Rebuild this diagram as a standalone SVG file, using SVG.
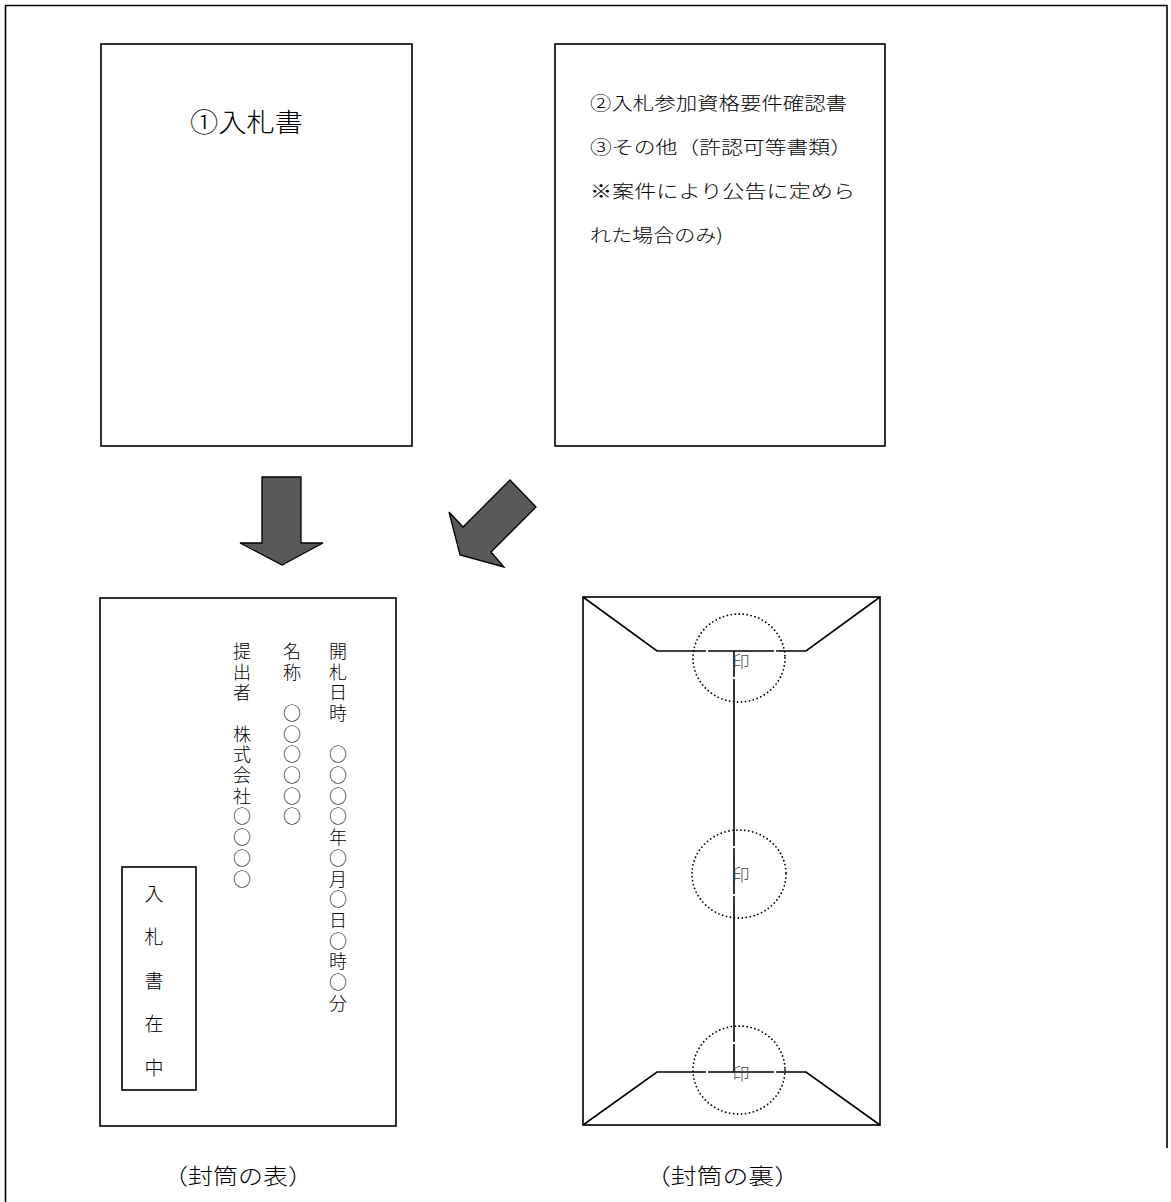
<svg xmlns="http://www.w3.org/2000/svg" width="1171" height="1202" viewBox="0 0 1171 1202">
<style>
  .box { fill: #fff; stroke: #000; stroke-width: 1.6; }
  .line { fill: none; stroke: #000; stroke-width: 1.6; }
  .arrow { fill: #595959; stroke: #000; stroke-width: 1.3; stroke-linejoin: miter; }
  .seal { fill: none; stroke: #000; stroke-width: 1.8; stroke-dasharray: 0 4; stroke-linecap: round; }
  .gap { fill: none; stroke: #fff; stroke-width: 2.2; }
  .t { font-family: "Noto Sans CJK JP", "Noto Sans", sans-serif; font-weight: 300; fill: #000; dominant-baseline: central; }
  .vt { font-family: "Noto Sans CJK JP", "Noto Sans", sans-serif; font-weight: 300; fill: #000; writing-mode: vertical-rl; font-size: 18px; letter-spacing: 2.7px; }
  .inkan { font-size: 17px; fill: #444; text-anchor: middle; }
</style>

<path class="line" d="M5.5,1202 V5.5 H1167 V1148"/>

<g id="doc1">
  <rect class="box" x="101" y="44" width="311" height="402"/>
  <text class="t" x="190" y="120" font-size="26" textLength="113" lengthAdjust="spacingAndGlyphs">①入札書</text>
</g>

<g id="doc2">
  <rect class="box" x="555" y="44" width="330" height="402"/>
  <text class="t" x="590" y="102" font-size="18" textLength="257" lengthAdjust="spacingAndGlyphs">②入札参加資格要件確認書</text>
  <text class="t" x="590" y="146" font-size="18" textLength="262" lengthAdjust="spacingAndGlyphs">③その他（許認可等書類）</text>
  <text class="t" x="590" y="190" font-size="18" textLength="265" lengthAdjust="spacingAndGlyphs">※案件により公告に定めら</text>
  <text class="t" x="590" y="234" font-size="18" textLength="133" lengthAdjust="spacingAndGlyphs">れた場合のみ)</text>
</g>

<g id="connectors">
  <polygon class="arrow" points="262,477 301,477 301,543 323,543 282,565 240,543 262,543"/>
  <polygon class="arrow" points="510,480 536,507 491,552 504,567 460,555 449,512 463,527"/>
</g>

<g id="envelope-front">
  <rect class="box" x="100" y="598" width="296" height="528"/>
  <text class="vt" x="338" y="642">開札日時　○○○○年○月○日○時○分</text>
  <text class="vt" x="292" y="642">名称　○○○○○○</text>
  <text class="vt" x="242" y="642">提出者　株式会社○○○○</text>
  <g id="zaichu">
    <rect class="box" x="122" y="867" width="74" height="223"/>
    <text class="vt" x="154" y="884" style="font-size:19px; letter-spacing:24.5px">入札書在中</text>
  </g>
</g>

<g id="envelope-back">
  <rect class="box" x="583" y="597" width="297" height="528"/>
  <path class="line" d="M583,597 L657,651 H806 L880,597"/>
  <path class="line" d="M583,1125 L657,1072 H806 L880,1125"/>
  <path class="line" d="M734,651 V1072"/>
  <rect class="gap" x="707" y="630" width="68" height="48"/>
  <rect class="gap" x="707" y="847" width="68" height="48"/>
  <rect class="gap" x="707" y="1043" width="68" height="48"/>
  <ellipse class="seal" cx="739" cy="658" rx="46" ry="44"/>
  <ellipse class="seal" cx="739" cy="874" rx="47" ry="44"/>
  <ellipse class="seal" cx="739" cy="1070" rx="46" ry="44"/>
  <text class="t inkan" x="741" y="660">印</text>
  <text class="t inkan" x="741" y="873">印</text>
  <text class="t inkan" x="741" y="1072">印</text>
</g>

<g id="labels">
  <text class="t" x="163" y="1174" font-size="22" textLength="150" lengthAdjust="spacingAndGlyphs">（封筒の表）</text>
  <text class="t" x="645" y="1174" font-size="22" textLength="155" lengthAdjust="spacingAndGlyphs">（封筒の裏）</text>
</g>
</svg>
